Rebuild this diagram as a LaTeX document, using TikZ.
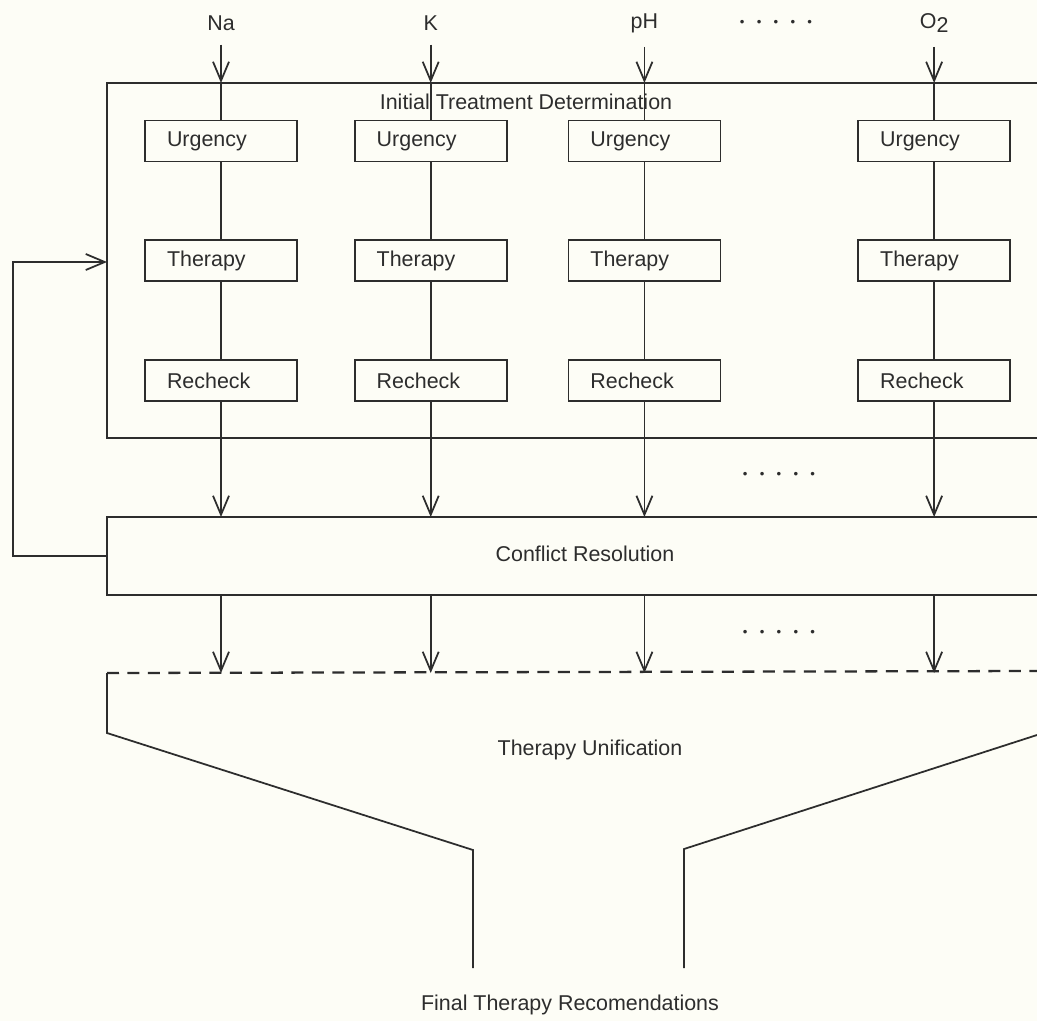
\documentclass[tikz,border=0pt]{standalone}
\usepackage{fontspec}
\setmainfont{Liberation Sans}
\usetikzlibrary{positioning, arrows.meta}

\definecolor{paper}{RGB}{253,253,246}
\definecolor{ink}{RGB}{45,45,45}
\newcommand{\oneDot}{{\fontsize{7.5}{8}\selectfont\textbullet}}
\newcommand{\fiveDots}{\oneDot\hspace{2.45mm}\oneDot\hspace{2.45mm}\oneDot\hspace{2.45mm}\oneDot\hspace{2.45mm}\oneDot}

\tikzset{
  stage/.style={draw, minimum width=3.04cm, minimum height=0.82cm, text width=2.16cm,
    inner xsep=0.44cm, align=left},
  feed/.style={->, shorten <=1.5mm},
}

\begin{document}
\begin{tikzpicture}[x=0.02cm, y=-0.02cm, node distance=1.54cm, line width=1pt, color=ink,
    font=\fontsize{12.2}{14}\selectfont, >={Straight Barb[length=3.8mm,width=3.2mm]}]
                \fill[paper] (0,0) rectangle (1037,1021);
                \useasboundingbox (0,0) rectangle (1037,1021);
                % corners of the open blocks
                \coordinate (inputRow) at (0,23);
                \coordinate (itdNW) at (107,83);
                \coordinate (itdSW) at (107,438);
                \coordinate (itdW) at (107,262);
                \coordinate (crNW) at (107,517);
                \coordinate (crSW) at (107,595);
                \coordinate (crW) at (107,556);
                \coordinate (tuNW) at (107,673);
                % per-parameter stages
                \node[stage] (naUrg) at (221,141) {Urgency};
                \node[stage, right = 1.12cm of naUrg] (kUrg) {Urgency};
                \node[stage, right = 1.2cm of kUrg] (phUrg) {Urgency};
                \node[stage, right = 2.72cm of phUrg] (oxUrg) {Urgency};
                \node[stage, below = of naUrg] (naTher) {Therapy};
                \node[stage, below = of kUrg] (kTher) {Therapy};
                \node[stage, below = of phUrg] (phTher) {Therapy};
                \node[stage, below = of oxUrg] (oxTher) {Therapy};
                \node[stage, below = of naTher] (naRech) {Recheck};
                \node[stage, below = of kTher] (kRech) {Recheck};
                \node[stage, below = of phTher] (phRech) {Recheck};
                \node[stage, below = of oxTher] (oxRech) {Recheck};
                \node (naIn) at (naUrg |- inputRow) {Na};
                \node (kIn) at (kUrg |- inputRow) {K};
                \node (phIn) at (phUrg |- inputRow) {pH};
                \node (oxIn) at (oxUrg |- inputRow) {O\raisebox{-0.4ex}{2}};
                \node (topDots) at (776,23) {\fiveDots};
                \node (midDots) at (779,475) {\fiveDots};
                \node (lowDots) at (779,633) {\fiveDots};
                \node (itdTitle) at (526,102) {Initial Treatment Determination};
                \node (crText) at (585,554) {Conflict Resolution};
                \node (tuText) at (590,750) {Therapy Unification};
                \node (finalText) at (570,1005) {Final Therapy Recomendations};
                % open blocks
                \draw (1037,83) -- (itdNW) -- (itdSW) -- (1037,438);
                \draw (1037,517) -- (crNW) -- (crSW) -- (1037,595);
                \draw[dash pattern=on 2.4mm off 1.7mm, line width=1.3pt] (tuNW) -- (1037,671);
                \draw (tuNW) -- (107,733) -- (473,850) -- (473,968);
                \draw (1037,735) -- (684,849) -- (684,968);
                % columns
                \draw[feed] (naIn) -- (naIn |- itdNW);
                \draw[feed] (kIn) -- (kIn |- itdNW);
                \draw[feed] (phIn) -- (phIn |- itdNW);
                \draw[feed] (oxIn) -- (oxIn |- itdNW);
                \draw (naIn |- itdNW) -- (naUrg) -- (naTher) -- (naRech);
                \draw (kIn |- itdNW) -- (kUrg) -- (kTher) -- (kRech);
                \draw (phIn |- itdNW) -- (phUrg) -- (phTher) -- (phRech);
                \draw (oxIn |- itdNW) -- (oxUrg) -- (oxTher) -- (oxRech);
                \draw[->] (naRech) -- (naRech |- crNW);
                \draw[->] (kRech) -- (kRech |- crNW);
                \draw[->] (phRech) -- (phRech |- crNW);
                \draw[->] (oxRech) -- (oxRech |- crNW);
                \draw[->] (naRech |- crSW) -- (naRech |- tuNW);
                \draw[->] (kRech |- crSW) -- (kRech |- tuNW);
                \draw[->] (phRech |- crSW) -- (phRech |- tuNW);
                \draw[->] (oxRech |- crSW) -- (oxRech |- tuNW);
                % feedback
                \draw[->] (crW) -- ++(-94,0) |- (itdW);
            \end{tikzpicture}
\end{document}
